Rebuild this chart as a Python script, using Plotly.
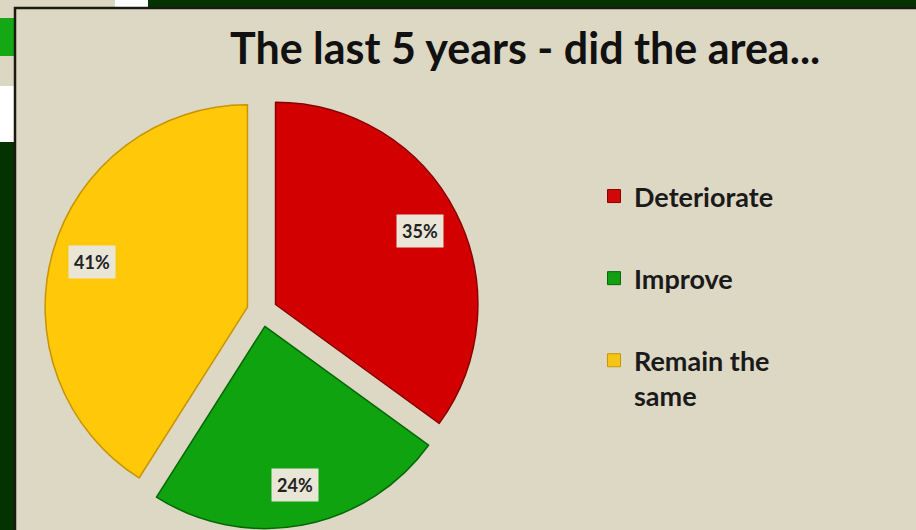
import math
import plotly.graph_objects as go

categories = ["Deteriorate", "Improve", "Remain the same"]
legend_labels = ["Deteriorate", "Improve", "Remain the<br>same"]
values = [35, 24, 41]
colors = ["#d20000", "#0fa30f", "#ffc808"]
edge_colors = ["#8a0000", "#066806", "#c89400"]
legend_colors = ["#d00808", "#12a012", "#f4c417"]
pulls = [0.075, 0.075, 0.075]
title_text = "The last 5 years - did the area..."

W, H = 916, 530
dom_x = [0.0486, 0.5235]
dom_y = [0.0, 0.825]

fig = go.Figure()
fig.add_trace(go.Pie(
    labels=categories, values=values, sort=False, direction="clockwise",
    rotation=0, pull=pulls, textinfo="none", hoverinfo="label+percent",
    marker=dict(colors=colors, line=dict(color=edge_colors, width=1.5)),
    domain=dict(x=dom_x, y=dom_y), showlegend=False,
))

# legend entries (one group each so spacing can be set)
for lab, col, ec in zip(legend_labels, legend_colors, edge_colors):
    fig.add_trace(go.Scatter(
        x=[None], y=[None], mode="markers", name=lab, legendgroup=lab,
        marker=dict(symbol="square", size=13, color=col, line=dict(color=ec, width=1)),
    ))

# percentage labels placed along each slice's mid-angle, derived from the data
total = sum(values)
cx = W * (dom_x[0] + dom_x[1]) / 2
cy = H * (1 - (dom_y[0] + dom_y[1]) / 2)
r = min(W * (dom_x[1] - dom_x[0]), H * (dom_y[1] - dom_y[0])) / 2 / (1 + max(pulls))
cum = 0
annotations = []
for v, p in zip(values, pulls):
    mid = (cum + v / 2) / total
    cum += v
    th = 2 * math.pi * mid
    d = (p + 0.8) * r
    px = cx + d * math.sin(th)
    py = cy - d * math.cos(th)
    annotations.append(dict(
        x=px / W, y=1 - py / H, xref="paper", yref="paper", showarrow=False,
        xanchor="center", yanchor="middle",
        text=f"<b>{round(100 * v / total)}%</b>",
        font=dict(family="Lato", size=18, color="#222222"),
        bgcolor="#e9e6d8", borderpad=5,
    ))

annotations.append(dict(
    x=525 / W, y=1 - 48 / H, xref="paper", yref="paper", showarrow=False,
    text=f"<b>{title_text}</b>", xanchor="center", yanchor="middle",
    font=dict(family="Lato", size=43, color="#111111"),
))

shapes = [
    # background screenshot fragments
    dict(type="rect", xref="paper", yref="paper", x0=0, x1=115 / W, y0=1 - 8 / H, y1=1,
         fillcolor="#dcd7c2", line=dict(width=0), layer="below"),
    dict(type="rect", xref="paper", yref="paper", x0=115 / W, x1=148 / W, y0=1 - 8 / H, y1=1,
         fillcolor="#ffffff", line=dict(width=0), layer="below"),
    dict(type="rect", xref="paper", yref="paper", x0=0, x1=14 / W, y0=1 - 18 / H, y1=1,
         fillcolor="#dcd7c2", line=dict(width=0), layer="below"),
    dict(type="rect", xref="paper", yref="paper", x0=0, x1=14 / W, y0=1 - 56 / H, y1=1 - 18 / H,
         fillcolor="#14a914", line=dict(width=0), layer="below"),
    dict(type="rect", xref="paper", yref="paper", x0=0, x1=14 / W, y0=1 - 86 / H, y1=1 - 56 / H,
         fillcolor="#dcd7c2", line=dict(width=0), layer="below"),
    dict(type="rect", xref="paper", yref="paper", x0=0, x1=14 / W, y0=1 - 142 / H, y1=1 - 86 / H,
         fillcolor="#ffffff", line=dict(width=0), layer="below"),
    # chart panel
    dict(type="rect", xref="paper", yref="paper", x0=15 / W, x1=1.01, y0=-0.01, y1=1 - 8 / H,
         fillcolor="#ddd8c4", line=dict(color="#1a1a10", width=2.5), layer="below"),
]

fig.update_layout(
    width=W, height=H, margin=dict(l=0, r=0, t=0, b=0),
    paper_bgcolor="#033300", plot_bgcolor="rgba(0,0,0,0)",
    xaxis=dict(visible=False), yaxis=dict(visible=False),
    showlegend=True,
    legend=dict(
        x=594 / W, y=1 - 172 / H, xanchor="left", yanchor="top",
        bgcolor="rgba(0,0,0,0)", font=dict(family="Lato", size=27, color="#1a1a1a", weight="bold"),
        tracegroupgap=44, valign="top", itemwidth=30,
    ),
    annotations=annotations, shapes=shapes,
)

fig.write_html("out.html")
